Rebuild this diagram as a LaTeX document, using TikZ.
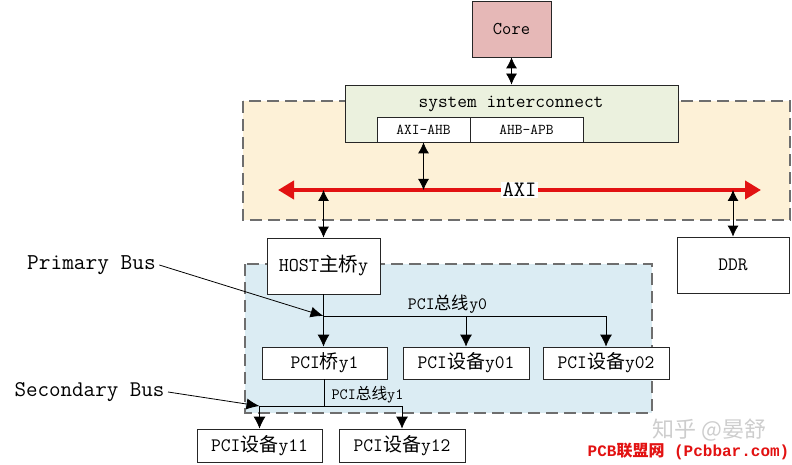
\documentclass[tikz,border=0pt]{standalone}
\usepackage{fontspec}
\renewcommand{\familydefault}{\ttdefault}
\newfontfamily\cjk{Noto Sans CJK SC}
\newfontfamily\markfont{Liberation Mono}
\usetikzlibrary{arrows.meta,positioning}
\definecolor{coreFill}{RGB}{230,184,183}
\definecolor{icFill}{RGB}{235,241,222}
\definecolor{axiZone}{RGB}{253,241,215}
\definecolor{pciZone}{RGB}{219,236,243}
\definecolor{busRed}{RGB}{226,18,18}
\definecolor{zoneGray}{RGB}{110,110,110}
\definecolor{markGray}{RGB}{205,205,205}
\newcommand{\zh}[1]{{\cjk #1}}
\newcommand{\fsz}[1]{\fontsize{#1}{#1}\selectfont}

\begin{document}
\begin{tikzpicture}[x=1pt, y=-1pt, every node/.style={font=\fsz{19}},
  blk/.style={draw=black!85, line width=0.8pt, fill=white, inner sep=0pt},
  zone/.style={draw=zoneGray, line width=1.3pt, dash pattern=on 12pt off 6pt},
  wire/.style={line width=0.8pt},
  feed/.style={wire, -{Latex[length=12pt,width=12pt]}},
  duplex/.style={wire, {Latex[length=11pt,width=11pt]}-{Latex[length=11pt,width=11pt]}},
  axibus/.style={busRed, line width=4.5pt, {Triangle[length=16pt,width=18pt]}-{Triangle[length=16pt,width=18pt]}},
  callout/.style={wire, -{Latex[length=13pt,width=11pt]}}]
  \useasboundingbox (0,0) rectangle (792,465);

  % zones
  \draw[zone, fill=axiZone] (243,101) rectangle (790,220);
  \draw[zone, fill=pciZone] (245,264) rectangle (652,413);

  % core and interconnect
  \node[blk, fill=coreFill, minimum width=79pt, minimum height=56pt, font=\fsz{18}] (core) at (511.5,29) {Core};
  \node[blk, fill=icFill, minimum width=333pt, minimum height=57pt] (ic) at (511.5,113.5) {};
  \node[font=\fsz{18.9}] (ictext) at (511,104) {system interconnect};
  \node[blk, minimum width=93pt, minimum height=25pt, font=\fsz{15}] (axiahb) at (423.5,129.5) {AXI-AHB};
  \node[blk, minimum width=113pt, minimum height=25pt, font=\fsz{15}] (ahbapb) at (526.5,129.5) {AHB-APB};

  % AXI bus
  \coordinate (axiW) at (278,190);
  \coordinate (axiE) at (761,190);
  \draw[axibus] (axiW) -- (axiE);
  \node[fill=white, inner sep=1.5pt, font=\fsz{22}] (axitext) at (519.5,190) {AXI};

  \node[blk, minimum width=113pt, minimum height=56pt, font=\fsz{19.5}] (host) at (323.5,266) {HOST\zh{主桥}y};
  \node[blk, minimum width=112pt, minimum height=56pt] (ddr) at (733,265) {DDR};

  \draw[duplex] (core) -- (ic.north -| core);
  \foreach \n in {axiahb,host,ddr}
    \draw[duplex] (\n) -- (\n |- axiW);

  % PCI tree
  \node[blk, minimum width=125pt, minimum height=32pt] (bridge) at (324.5,363) {PCI\zh{桥}y1};
  \node[blk, minimum width=126pt, minimum height=32pt] (dev01) at (466,363) {PCI\zh{设备}y01};
  \node[blk, minimum width=126pt, minimum height=32pt] (dev02) at (606,363) {PCI\zh{设备}y02};
  \node[blk, minimum width=125pt, minimum height=33pt] (dev11) at (259.5,445.5) {PCI\zh{设备}y11};
  \node[blk, minimum width=126pt, minimum height=33pt] (dev12) at (402,445.5) {PCI\zh{设备}y12};

  \coordinate (bus0) at (323.5,316);
  \draw[feed] (host) -- (host |- bridge.north);
  \draw[wire] (bus0) -- (dev02 |- bus0);
  \foreach \d in {dev01,dev02}
    \draw[feed] (\d |- bus0) -- (\d.north);
  \node[font=\fsz{17.3}] (bus0text) at (447.5,304) {PCI\zh{总线}y0};

  \coordinate (bus1) at (259.5,406);
  \draw[wire] (bridge) -- (bridge |- bus1);
  \draw[wire] (bus1) -- (dev12 |- bus1);
  \foreach \d in {dev11,dev12}
    \draw[feed] (\d |- bus1) -- (\d.north);
  \node[font=\fsz{15.7}] (bus1text) at (367.5,395) {PCI\zh{总线}y1};

  % callouts
  \node[font=\fsz{22.7}] (primary) at (91.5,265) {Primary Bus};
  \draw[callout] (primary.east) -- (bus0);
  \node[font=\fsz{22.4}] (secondary) at (89.5,392) {Secondary Bus};
  \draw[callout] (secondary.east) -- (bus1);

  % marks
  \node[text=markGray, inner sep=0pt, font=\fsz{22}\cjk] (zhihu) at (709.5,430) {知乎 @晏舒};
  \node[text=busRed, inner sep=0pt, font=\markfont\fsz{16}\bfseries] (pcbbar) at (688.5,451) {PCB\zh{联盟网} (Pcbbar.com)};
\end{tikzpicture}
\end{document}
